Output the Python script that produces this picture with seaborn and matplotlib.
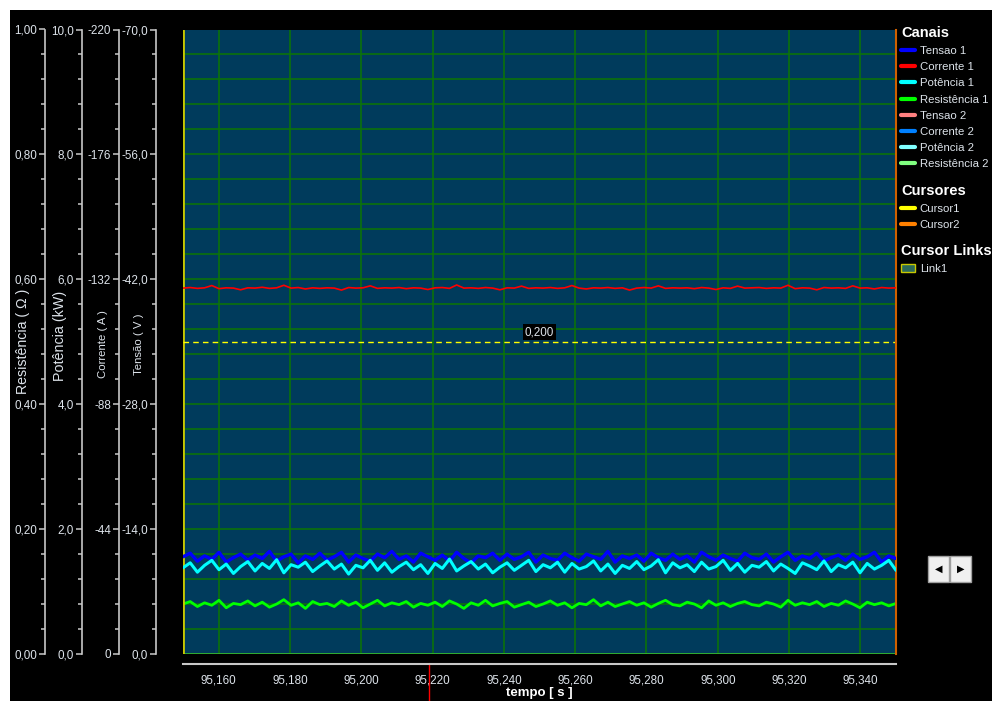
import numpy as np
import matplotlib.pyplot as plt
import matplotlib.transforms as mtransforms
import seaborn as sns
from matplotlib.ticker import MultipleLocator, FuncFormatter
from matplotlib.lines import Line2D
from matplotlib.patches import Rectangle, Patch

# time window shown on the x axis (s)
t_start, t_end = 95.150, 95.350

# Channel 1 signals
tensao_1 = [-10.9, -11.3, -10.4, -11.0, -10.6, -11.4, -10.3, -10.8, -11.2, -10.5,
            -11.1, -10.7, -11.5, -10.4, -10.9, -11.2, -10.2, -11.0, -10.6, -11.3,
            -10.5, -10.9, -11.4, -10.3, -11.1, -10.7, -10.4, -11.2, -10.8, -11.5,
            -10.6, -11.0, -10.3, -11.3, -10.9, -10.5, -11.1, -10.4, -11.4, -10.7,
            -10.2, -11.0, -10.8, -11.3, -10.5, -11.2, -10.6, -10.9, -11.4, -10.3,
            -11.1, -10.7, -10.5, -11.3, -10.8, -10.4, -11.2, -10.9, -10.6, -11.5,
            -10.3, -11.0, -10.7, -11.1, -10.4, -11.3, -10.8, -10.5, -11.2, -10.6,
            -11.0, -10.3, -11.4, -10.9, -10.5, -11.1, -10.7, -10.4, -11.3, -10.8,
            -10.6, -11.2, -10.3, -10.9, -11.4, -10.5, -11.0, -10.7, -11.3, -10.4,
            -10.8, -11.1, -10.5, -11.2, -10.6, -10.9, -11.4, -10.3, -11.0, -10.7]

corrente_1 = [-128.9, -129.1, -128.8, -129.0, -129.8, -128.7, -129.0, -128.9, -128.3, -129.0,
              -128.9, -129.2, -128.8, -129.0, -129.9, -128.9, -129.1, -128.6, -129.0, -128.8,
              -129.0, -128.9, -128.2, -129.1, -128.9, -129.0, -129.7, -128.8, -129.0, -128.9,
              -129.1, -128.7, -129.0, -128.9, -128.4, -129.0, -129.1, -128.8, -130.0, -128.9,
              -129.0, -128.8, -129.1, -128.9, -128.3, -129.0, -128.9, -129.6, -128.8, -129.0,
              -128.9, -129.1, -128.8, -129.0, -129.8, -128.9, -128.6, -129.0, -128.9, -129.1,
              -128.8, -129.0, -128.2, -128.9, -129.1, -128.9, -129.7, -128.8, -129.0, -128.9,
              -129.0, -128.7, -129.1, -128.9, -128.4, -129.0, -128.8, -129.6, -128.9, -129.0,
              -129.1, -128.8, -129.0, -128.9, -129.9, -128.7, -129.0, -128.9, -128.3, -129.1,
              -128.9, -129.0, -128.8, -129.7, -128.9, -129.0, -128.6, -129.1, -128.9, -129.0]

potencia_1 = [1.38, 1.46, 1.31, 1.42, 1.50, 1.35, 1.44, 1.29, 1.40, 1.48,
              1.33, 1.45, 1.37, 1.51, 1.30, 1.43, 1.39, 1.47, 1.32, 1.41,
              1.49, 1.36, 1.44, 1.28, 1.42, 1.38, 1.50, 1.34, 1.46, 1.31,
              1.40, 1.47, 1.35, 1.43, 1.29, 1.45, 1.37, 1.52, 1.33, 1.41,
              1.48, 1.36, 1.44, 1.30, 1.39, 1.46, 1.34, 1.42, 1.50, 1.32,
              1.43, 1.38, 1.47, 1.31, 1.45, 1.36, 1.40, 1.49, 1.33, 1.44,
              1.29, 1.42, 1.37, 1.48, 1.35, 1.41, 1.51, 1.30, 1.46, 1.38,
              1.43, 1.32, 1.47, 1.36, 1.40, 1.50, 1.34, 1.45, 1.31, 1.42,
              1.39, 1.48, 1.33, 1.44, 1.37, 1.29, 1.46, 1.41, 1.35, 1.49,
              1.32, 1.43, 1.38, 1.47, 1.30, 1.45, 1.36, 1.42, 1.50, 1.34]

resistencia_1 = [0.080, 0.084, 0.076, 0.082, 0.078, 0.086, 0.074, 0.081, 0.079, 0.085,
                 0.077, 0.083, 0.075, 0.080, 0.087, 0.078, 0.082, 0.073, 0.084, 0.079,
                 0.081, 0.076, 0.085, 0.078, 0.083, 0.074, 0.080, 0.086, 0.077, 0.082,
                 0.079, 0.084, 0.075, 0.081, 0.078, 0.083, 0.076, 0.085, 0.080, 0.073,
                 0.082, 0.078, 0.086, 0.077, 0.081, 0.084, 0.075, 0.079, 0.083, 0.076,
                 0.080, 0.085, 0.078, 0.082, 0.074, 0.081, 0.079, 0.087, 0.077, 0.083,
                 0.076, 0.080, 0.084, 0.078, 0.082, 0.075, 0.081, 0.086, 0.079, 0.077,
                 0.083, 0.080, 0.074, 0.085, 0.078, 0.082, 0.076, 0.081, 0.084, 0.079,
                 0.077, 0.083, 0.080, 0.075, 0.086, 0.078, 0.082, 0.079, 0.084, 0.076,
                 0.081, 0.078, 0.085, 0.080, 0.074, 0.083, 0.079, 0.082, 0.077, 0.081]

# legend entries
channel_names = ['Tensao 1', 'Corrente 1', 'Potência 1', 'Resistência 1',
                 'Tensao 2', 'Corrente 2', 'Potência 2', 'Resistência 2']
channel_colors = ['#0000ff', '#ff0000', '#00ffff', '#00ff00',
                  '#ff8080', '#0080ff', '#80ffff', '#80ff80']
cursor_names = ['Cursor1', 'Cursor2']
cursor_colors = ['#ffff00', '#ff8000']
link_names = ['Link1']

# horizontal cursor (resistance scale) and its label
cursor_level = 0.50
cursor_label = '0,200'
marker_time = 95.219

W, H = 992, 701
BG = '#003b5c'
GRID = '#0b720b'
FG = '#c8c8c8'
TXT = '#dde3ea'

sns.set_style('dark')
plt.rcParams['font.family'] = ['Liberation Sans', 'DejaVu Sans']

fig = plt.figure(figsize=(W / 100, H / 100), dpi=100, facecolor='white')
# black panel inside the white frame
fig.add_artist(Rectangle((10 / W, 0), 1, 1 - 10 / H, transform=fig.transFigure,
                         facecolor='black', edgecolor='none', zorder=-10))

ax = fig.add_axes([183 / W, 1 - 654 / H, 713 / W, (654 - 29.5) / H])
ax.set_facecolor(BG)

# one axis per quantity, all sharing the time axis
tw_tensao = ax.twinx()
tw_corrente = ax.twinx()
tw_potencia = ax.twinx()

time = np.linspace(t_start, t_end, len(tensao_1))
sns.lineplot(x=time, y=resistencia_1, ax=ax, color='#00ff00', linewidth=2.0)
sns.lineplot(x=time, y=tensao_1, ax=tw_tensao, color='#0000ff', linewidth=2.4)
sns.lineplot(x=time, y=corrente_1, ax=tw_corrente, color='#ff0000', linewidth=1.2)
sns.lineplot(x=time, y=potencia_1, ax=tw_potencia, color='#00ffff', linewidth=2.2)


def comma(fmt):
    return FuncFormatter(lambda v, _: (fmt % (v + 0.0)).replace('.', ','))


def style_y(a, offset, lim, major, fmt, label, lx, ly, size):
    a.set_ylim(*lim)
    for s in a.spines.values():
        s.set_visible(False)
    sp = a.spines['left']
    sp.set_visible(True)
    sp.set_position(('outward', offset))
    sp.set_bounds(min(lim), max(lim))
    sp.set_color(FG)
    sp.set_linewidth(1.2)
    a.yaxis.set_ticks_position('left')
    a.yaxis.set_label_position('left')
    a.yaxis.set_major_locator(MultipleLocator(major))
    a.yaxis.set_minor_locator(MultipleLocator(major / 5))
    a.yaxis.set_major_formatter(comma(fmt))
    a.tick_params(axis='y', which='major', length=4.3, width=1.1, color=FG,
                  labelcolor=TXT, labelsize=8.4, pad=1.5)
    a.tick_params(axis='y', which='minor', length=3, width=1.1, color=FG)
    a.set_ylabel(label, color=TXT, fontsize=size)
    a.yaxis.label.set_va('center')
    a.yaxis.set_label_coords(lx, ly)


style_y(ax, 99.4, (0, 1), 0.2, '%.2f', 'Resistência ( Ω )', -0.2244, 0.501, 10.2)
style_y(tw_potencia, 72.7, (0, 10), 2, '%.1f', 'Potência (kW)', -0.1725, 0.509, 10.3)
style_y(tw_corrente, 46.1, (0, -220), 44, '%.0f', 'Corrente ( A )', -0.1122, 0.496, 8.2)
style_y(tw_tensao, 19.4, (0, -70), 14, '%.1f', 'Tensão ( V )', -0.0617, 0.496, 8.2)

# x axis and grid on the main axis
ax.set_xlim(t_start, t_end)
ax.xaxis.set_major_locator(MultipleLocator(0.02))
ax.xaxis.set_major_formatter(comma('%.3f'))
ax.spines['bottom'].set_visible(True)
ax.spines['bottom'].set_position(('outward', 7))
ax.spines['bottom'].set_color(FG)
ax.spines['bottom'].set_linewidth(1.5)
ax.spines['right'].set_visible(True)
ax.spines['right'].set_color('#d06000')
ax.spines['right'].set_linewidth(1.5)
ax.tick_params(axis='x', which='major', length=5, width=1.1, color=FG,
               labelcolor=TXT, labelsize=8.4, pad=3)
ax.set_xlabel('tempo [ s ]', color='white', fontsize=9.5, fontweight='bold', labelpad=0)
ax.grid(True, axis='y', which='both', color=GRID, linewidth=1.2)
ax.grid(True, axis='x', which='major', color=GRID, linewidth=1.2)
ax.axhline(0, color='#3cc03c', linewidth=1.8)
ax.axvline(t_start, color='#c8c800', linewidth=2)

# horizontal cursor
ax.axhline(cursor_level, color='#ffff00', linewidth=1, linestyle=(0, (4, 3)))
ax.text((t_start + t_end) / 2, cursor_level + 0.006, cursor_label, ha='center', va='bottom',
        color=TXT, fontsize=8.4, bbox=dict(facecolor='black', edgecolor='none', pad=1.2))

# mouse marker below the time axis
blend = mtransforms.blended_transform_factory(ax.transData, ax.transAxes)
ax.plot([marker_time, marker_time], [-0.014, -0.08], transform=blend,
        color='#ff0000', linewidth=1, clip_on=False)

# legends on the right
leg_kw = dict(loc='upper left', frameon=False, fontsize=8.2, alignment='left',
              title_fontproperties={'weight': 'bold', 'size': 10.5},
              handlelength=1.2, handletextpad=0.45, labelspacing=0.54,
              borderpad=0, borderaxespad=0)
legs = []
legs.append(fig.legend([Line2D([], [], color=c, lw=3) for c in channel_colors], channel_names,
                       title='Canais', bbox_to_anchor=(901 / W, 1 - 26 / H), **leg_kw))
legs.append(fig.legend([Line2D([], [], color=c, lw=3) for c in cursor_colors], cursor_names,
                       title='Cursores', bbox_to_anchor=(901 / W, 1 - 184 / H), **leg_kw))
legs.append(fig.legend([Patch(facecolor='#2a6a5a', edgecolor='#c8c800')], link_names,
                       title='Cursor Links', bbox_to_anchor=(901 / W, 1 - 244 / H), **leg_kw))
for lg in legs:
    lg.get_title().set_color('white')
    for t in lg.get_texts():
        t.set_color(TXT)

# scroll buttons
for x0, arrow in [(928, '◀'), (950, '▶')]:
    fig.add_artist(Rectangle((x0 / W, 1 - 582 / H), 21 / W, 26 / H, transform=fig.transFigure,
                             facecolor='#f0f0f0', edgecolor='#a0a0a0', linewidth=1))
    fig.text((x0 + 10.5) / W, 1 - 569 / H, arrow, ha='center', va='center',
             fontsize=7, color='black', family='DejaVu Sans')

fig.savefig('out.png', dpi=100, facecolor=fig.get_facecolor())
